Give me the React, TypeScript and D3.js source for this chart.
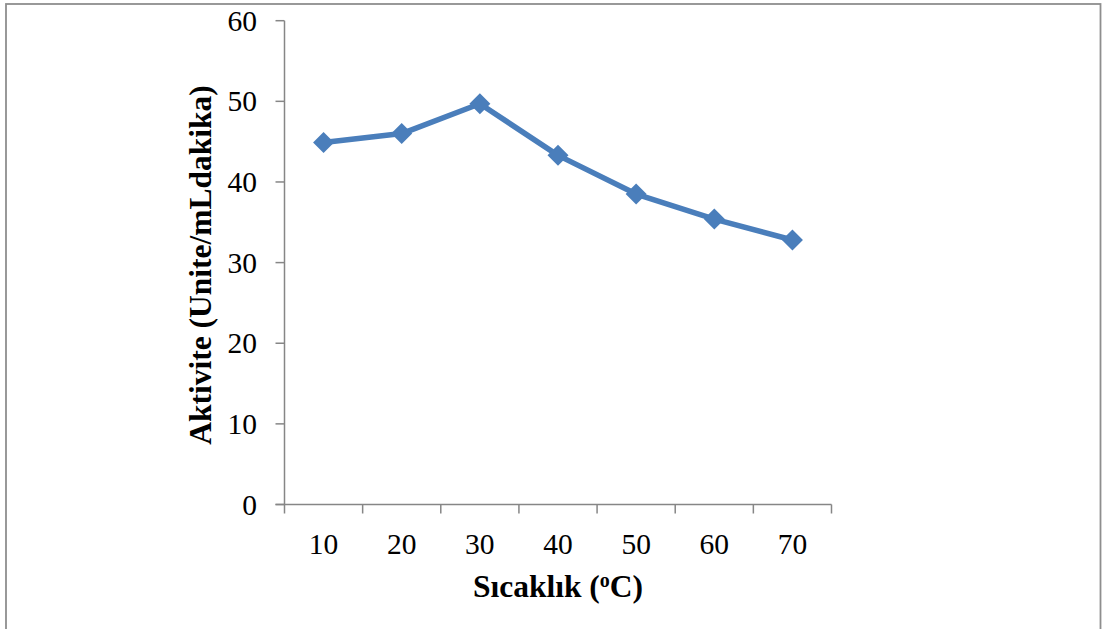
import React from "react";
import * as d3 from "d3";

// Temperature categories (°C) and measured activity values
const temperatures = ["10", "20", "30", "40", "50", "60", "70"];
const activity = [44.9, 46.0, 49.7, 43.3, 38.5, 35.4, 32.8];
const yTicks = [0, 10, 20, 30, 40, 50, 60];

const W = 1103;
const H = 629;
const plot = { left: 284.5, right: 831.5, top: 20.7, bottom: 504.5 };

const serif = "'Liberation Serif', 'Times New Roman', serif";
const axisColor = "#868686";
const lineColor = "#4A7EBB";

export default function App() {
  const x = d3
    .scaleBand<string>()
    .domain(temperatures)
    .range([plot.left, plot.right])
    .paddingInner(0)
    .paddingOuter(0);
  const y = d3.scaleLinear().domain([0, 60]).range([plot.bottom, plot.top]);

  const pts: [number, number][] = activity.map((v, i) => [
    (x(temperatures[i]) as number) + x.bandwidth() / 2,
    y(v),
  ]);
  const line = d3.line()(pts) as string;

  const boundaries = [...temperatures.map((t) => x(t) as number), plot.right];
  const d = 10.5; // half diagonal of diamond marker

  return (
    <svg
      width={W}
      height={H}
      style={{ position: "absolute", left: 0, top: 0, background: "#fff" }}
    >
      {/* outer frame */}
      <rect x={6} y={4} width={1094.5} height={640} fill="none" stroke="#8e8e8e" strokeWidth={1.8} />

      {/* y axis */}
      <line x1={plot.left} x2={plot.left} y1={plot.top} y2={plot.bottom} stroke={axisColor} strokeWidth={1.5} />
      {yTicks.map((t) => (
        <g key={t}>
          <line x1={plot.left - 9} x2={plot.left} y1={y(t)} y2={y(t)} stroke={axisColor} strokeWidth={1.5} />
          <text
            x={257}
            y={y(t)}
            dy="0.34em"
            textAnchor="end"
            fontFamily={serif}
            fontSize={29.5}
            fill="#000"
          >
            {t}
          </text>
        </g>
      ))}

      {/* x axis */}
      <line x1={plot.left - 9} x2={plot.right} y1={plot.bottom} y2={plot.bottom} stroke={axisColor} strokeWidth={1.5} />
      {boundaries.map((bx, i) => (
        <line key={i} x1={bx} x2={bx} y1={plot.bottom} y2={plot.bottom + 9} stroke={axisColor} strokeWidth={1.5} />
      ))}
      {temperatures.map((t) => (
        <text
          key={t}
          x={(x(t) as number) + x.bandwidth() / 2}
          y={554}
          textAnchor="middle"
          fontFamily={serif}
          fontSize={29.5}
          fill="#000"
        >
          {t}
        </text>
      ))}

      {/* series */}
      <path d={line} fill="none" stroke={lineColor} strokeWidth={5.5} strokeLinejoin="round" />
      {pts.map(([px, py], i) => (
        <path
          key={i}
          d={`M${px},${py - d}L${px + d},${py}L${px},${py + d}L${px - d},${py}Z`}
          fill={lineColor}
        />
      ))}

      {/* axis titles */}
      <text
        x={558}
        y={597}
        textAnchor="middle"
        fontFamily={serif}
        fontWeight="bold"
        fontSize={31.5}
        fill="#000"
      >
        Sıcaklık (
        <tspan fontSize={20} dy={-10}>o</tspan>
        <tspan dy={10}>C)</tspan>
      </text>
      <text
        transform="translate(211,265) rotate(-90)"
        textAnchor="middle"
        fontFamily={serif}
        fontWeight="bold"
        fontSize={31.5}
        fill="#000"
      >
        Aktivite (Unite/mLdakika)
      </text>
    </svg>
  );
}
